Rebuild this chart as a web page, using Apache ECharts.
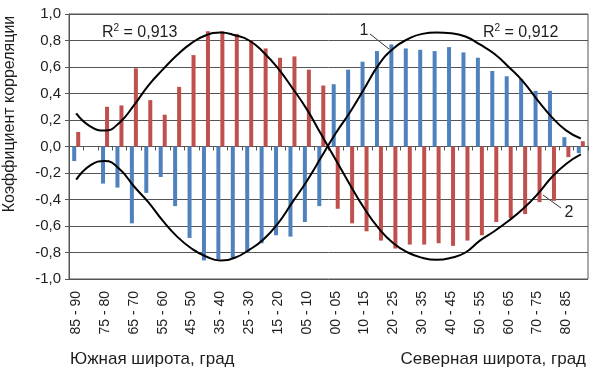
<!DOCTYPE html>
<html>
<head>
<meta charset="utf-8">
<script src="https://cdn.jsdelivr.net/npm/echarts@6/dist/echarts.min.js"></script>
<style>
  html, body { margin: 0; padding: 0; background: #fff; }
  #chart { width: 598px; height: 378px; }
</style>
</head>
<body>
<div id="chart"></div>
<script>
// широтные пояса: юг (от полюса к экватору), затем север
const southBands = ['85 - 90', '80 - 85', '75 - 80', '70 - 75', '65 - 70', '60 - 65', '55 - 60', '50 - 55', '45 - 50',
  '40 - 45', '35 - 40', '30 - 35', '25 - 30', '20 - 25', '15 - 20', '10 - 15', '05 - 10', '00 - 05']
const northBands = ['00 - 05', '05 - 10', '10 - 15', '15 - 20', '20 - 25', '25 - 30', '30 - 35', '35 - 40', '40 - 45',
  '45 - 50', '50 - 55', '55 - 60', '60 - 65', '65 - 70', '70 - 75', '75 - 80', '80 - 85', '85 - 90']
const categories = southBands.concat(northBands)

// синие столбцы (ряд 1)
const blueValues = [-0.11, null, -0.28, -0.31, -0.58, -0.35, -0.23, -0.45, -0.69, -0.86, -0.85, -0.85, -0.80, -0.73, -0.67, -0.68, -0.57, -0.45,
  0.47, 0.58, 0.64, 0.72, 0.77, 0.74, 0.73, 0.72, 0.75, 0.71, 0.67, 0.57, 0.53, 0.51, 0.42, 0.42, 0.07, -0.05]
// красные столбцы (ряд 2)
const redValues = [0.11, null, 0.30, 0.31, 0.59, 0.35, 0.24, 0.45, 0.69, 0.87, 0.87, 0.85, 0.80, 0.74, 0.67, 0.68, 0.58, 0.46,
  -0.47, -0.58, -0.64, -0.71, -0.77, -0.74, -0.74, -0.73, -0.75, -0.71, -0.67, -0.57, -0.54, -0.51, -0.42, -0.41, -0.08, 0.04]

// линии тренда
const trend1 = [-0.25, -0.14, -0.11, -0.17, -0.30, -0.42, -0.56, -0.68, -0.77, -0.83, -0.86, -0.84, -0.78, -0.70, -0.58, -0.42, -0.26, -0.08,
  0.10, 0.26, 0.44, 0.62, 0.74, 0.81, 0.85, 0.86, 0.855, 0.83, 0.77, 0.70, 0.60, 0.49, 0.35, 0.22, 0.12, 0.06]
const trend2 = [0.25, 0.15, 0.12, 0.18, 0.31, 0.46, 0.58, 0.69, 0.78, 0.84, 0.86, 0.84, 0.80, 0.71, 0.59, 0.44, 0.28, 0.09,
  -0.10, -0.29, -0.47, -0.62, -0.73, -0.80, -0.84, -0.855, -0.84, -0.80, -0.71, -0.64, -0.56, -0.47, -0.36, -0.23, -0.13, -0.06]

const yTicks = { min: -1, max: 1, step: 0.2 }

const font = '"Liberation Sans", Arial, sans-serif'
const ink = '#1e1e1e'
const gridColor = '#555555'

const chart = echarts.init(document.getElementById('chart'))

// подпись R² с верхним индексом
function r2Label(x, text) {
  return {
    type: 'text', x: x, y: 32,
    style: {
      text: '{r|R}{s|2}{r| = ' + text + '}',
      fill: ink,
      textAlign: 'left',
      textVerticalAlign: 'middle',
      rich: {
        r: { fontSize: 16, fontFamily: font, fill: ink, verticalAlign: 'bottom', lineHeight: 18 },
        s: { fontSize: 10, fontFamily: font, fill: ink, verticalAlign: 'top', lineHeight: 18 }
      }
    }
  }
}

chart.setOption({
  animation: false,
  textStyle: { fontFamily: font },
  grid: {
    left: 69,
    right: 10,
    top: 14,
    bottom: 99,
    show: true,
    borderColor: gridColor,
    borderWidth: 1
  },
  xAxis: [{
    type: 'category',
    data: categories,
    position: 'bottom',
    axisLine: { onZero: true, lineStyle: { color: gridColor, width: 1 } },
    axisTick: { show: true, interval: 0, length: 4, lineStyle: { color: gridColor } },
    axisLabel: { show: false },
    splitLine: { show: false }
  }, {
    type: 'category',
    data: categories,
    position: 'bottom',
    axisLine: { show: false, onZero: false },
    axisTick: { show: false },
    axisLabel: {
      interval: 1,
      rotate: 90,
      margin: 12,
      fontSize: 14,
      color: ink,
      fontFamily: font
    }
  }],
  yAxis: {
    type: 'value',
    min: yTicks.min,
    max: yTicks.max,
    interval: yTicks.step,
    axisLine: { show: true, lineStyle: { color: gridColor } },
    axisTick: { show: true, length: 4, lineStyle: { color: gridColor } },
    axisLabel: {
      fontSize: 15,
      color: ink,
      margin: 8,
      fontFamily: font,
      formatter: v => v.toFixed(1).replace('.', ',')
    },
    splitLine: { lineStyle: { color: gridColor, width: 1 } }
  },
  series: [{
    name: '1',
    type: 'bar',
    data: blueValues,
    barWidth: 4,
    barGap: '0%',
    itemStyle: { color: '#4F81BD' }
  }, {
    name: '2',
    type: 'bar',
    data: redValues,
    barWidth: 4,
    barGap: '0%',
    itemStyle: { color: '#C0504D' }
  }, {
    name: 'тренд 1',
    type: 'line',
    data: trend1,
    smooth: true,
    showSymbol: false,
    z: 5,
    lineStyle: { color: '#000', width: 2 }
  }, {
    name: 'тренд 2',
    type: 'line',
    data: trend2,
    smooth: true,
    showSymbol: false,
    z: 5,
    lineStyle: { color: '#000', width: 2 }
  }],
  graphic: [
    { type: 'text', x: 10, y: 114, rotation: Math.PI / 2,
      style: { text: 'Коэффициент корреляции', font: '16px ' + font, fill: ink, textAlign: 'center', textVerticalAlign: 'middle' } },
    { type: 'text', x: 70, y: 359,
      style: { text: 'Южная широта, град', font: '17px ' + font, fill: ink, textAlign: 'left', textVerticalAlign: 'middle' } },
    { type: 'text', x: 586, y: 359,
      style: { text: 'Северная широта, град', font: '17px ' + font, fill: ink, textAlign: 'right', textVerticalAlign: 'middle' } },
    r2Label(102, '0,913'),
    r2Label(483, '0,912'),
    { type: 'text', x: 364, y: 31,
      style: { text: '1', font: '16px ' + font, fill: ink, textAlign: 'center', textVerticalAlign: 'middle' } },
    { type: 'line', shape: { x1: 370, y1: 34, x2: 389, y2: 49 }, style: { stroke: '#333', lineWidth: 1 } },
    { type: 'text', x: 569, y: 213,
      style: { text: '2', font: '16px ' + font, fill: ink, textAlign: 'center', textVerticalAlign: 'middle' } },
    { type: 'line', shape: { x1: 561, y1: 208, x2: 543, y2: 195 }, style: { stroke: '#333', lineWidth: 1 } }
  ]
})
</script>
</body>
</html>
